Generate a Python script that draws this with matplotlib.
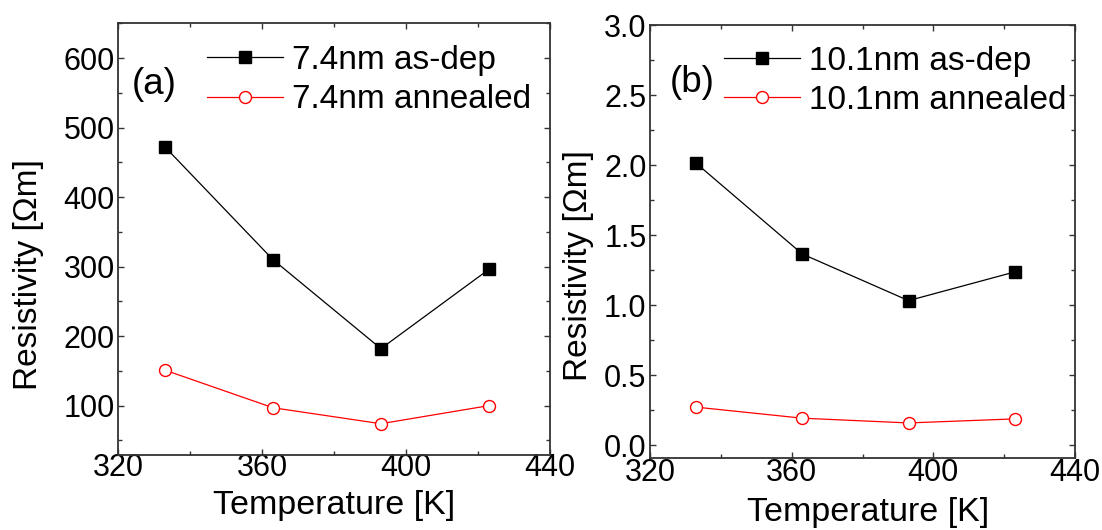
import matplotlib
matplotlib.use("Agg")
import matplotlib.pyplot as plt
from matplotlib.ticker import MultipleLocator, FormatStrFormatter

plt.rcParams["font.family"] = ["Liberation Sans", "DejaVu Sans"]
plt.rcParams["xtick.labelsize"] = 22
plt.rcParams["ytick.labelsize"] = 22

# =========================================================
# Data
# =========================================================
TEMPERATURE = [333, 363, 393, 423]

RHO_74_ASDEP = [472, 310, 182, 296]
RHO_74_ANNEAL = [151, 97, 74, 100]

RHO_101_ASDEP = [2.015, 1.366, 1.033, 1.238]
RHO_101_ANNEAL = [0.272, 0.193, 0.159, 0.188]

LABELS_A = ["7.4nm as-dep", "7.4nm annealed"]
LABELS_B = ["10.1nm as-dep", "10.1nm annealed"]

W, H = 1102, 530
DPI = 100


def px_axes(fig, x0, x1, y_top, y_bot):
    return fig.add_axes([x0 / W, (H - y_bot) / H, (x1 - x0) / W, (y_bot - y_top) / H])


def style_axes(ax, ymajor, yminor, xpad):
    for sp in ax.spines.values():
        sp.set_linewidth(1.3)
        sp.set_color("#333333")
    ax.xaxis.set_major_locator(MultipleLocator(40))
    ax.xaxis.set_minor_locator(MultipleLocator(20))
    ax.yaxis.set_major_locator(MultipleLocator(ymajor))
    ax.yaxis.set_minor_locator(MultipleLocator(yminor))
    ax.tick_params(which="both", direction="in", top=True, right=True, color="#333333")
    ax.tick_params(which="major", length=4, width=1.0)
    ax.tick_params(which="minor", length=3, width=1.0)
    ax.tick_params(axis="y", pad=2.5)
    ax.tick_params(axis="x", pad=xpad)
    ax.set_xlim(320, 440)


def draw_panel(ax, asdep, anneal, labels, tag, leg_xy, tag_xy, xlab_xy, ylab_xy):
    ax.plot(TEMPERATURE, asdep, color="black", lw=0.9, marker="s", ms=8.2,
            mfc="black", mec="black", label=labels[0])
    ax.plot(TEMPERATURE, anneal, color="red", lw=0.9, marker="o", ms=8.6,
            mfc="white", mec="red", mew=1.0, label=labels[1])
    ax.legend(loc="upper left", bbox_to_anchor=leg_xy, frameon=False,
              fontsize=24, borderpad=0, borderaxespad=0, handlelength=2.28,
              handletextpad=0.27, labelspacing=0.25)
    ax.text(tag_xy[0], tag_xy[1], tag, transform=ax.transAxes, fontsize=26.5,
            va="center", ha="left")
    ax.set_xlabel("Temperature [K]", fontsize=24.5)
    ax.set_ylabel("Resistivity [\u03a9m]", fontsize=24)
    ax.xaxis.set_label_coords(*xlab_xy)
    ax.yaxis.set_label_coords(*ylab_xy)


fig = plt.figure(figsize=(W / DPI, H / DPI), dpi=DPI)

ax_a = px_axes(fig, 118.3, 550, 23.3, 455)
style_axes(ax_a, 100, 50, -1.5)
ax_a.set_ylim(29, 650)
draw_panel(ax_a, RHO_74_ASDEP, RHO_74_ANNEAL, LABELS_A, "(a)",
           (0.2055, 0.950), (0.032, 0.859), (0.5, -0.082), (-0.171, 0.418))

ax_b = px_axes(fig, 650, 1075, 25.3, 457.8)
style_axes(ax_b, 0.5, 0.25, 0.5)
ax_b.set_ylim(-0.09, 3.0)
ax_b.yaxis.set_major_formatter(FormatStrFormatter("%.1f"))
draw_panel(ax_b, RHO_101_ASDEP, RHO_101_ANNEAL, LABELS_B, "(b)",
           (0.173, 0.953), (0.046, 0.867), (0.513, -0.091), (-0.132, 0.4435))

fig.savefig("out.png", dpi=DPI)
